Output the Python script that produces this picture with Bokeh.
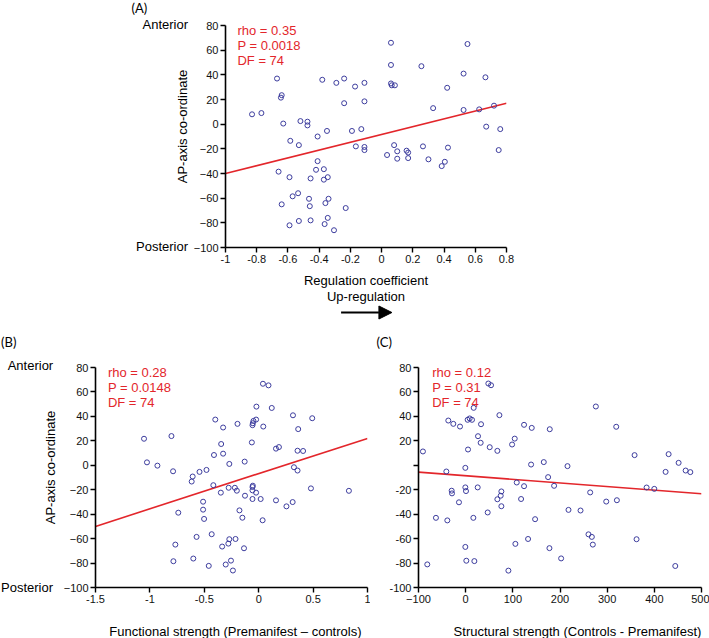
import math
from bokeh.plotting import figure
from bokeh.models import (Range1d, FixedTicker, CustomJSTickFormatter, Label,
                          Arrow, NormalHead)
from bokeh.layouts import column, row
from bokeh.embed import file_html
from bokeh.resources import INLINE

# ---------------- data ----------------
# Panel A: regulation coefficient vs AP-axis coordinate
a_x = [-0.83, -0.77, -0.67, -0.64, -0.645, -0.63, -0.66, -0.585, -0.59, -0.53,
       -0.52, -0.475, -0.475, -0.41, -0.35, -0.38, -0.29, -0.24, -0.17, -0.24,
       -0.11, -0.11, -0.19, -0.13, -0.165, -0.11, -0.11, -0.41, -0.42, -0.37,
       -0.345, -0.37, -0.455, -0.64, -0.57, -0.535, -0.465, -0.46, -0.34, -0.36,
       -0.23, -0.59, -0.53, -0.455, -0.345, -0.365, -0.305, 0.06, 0.06, 0.06,
       0.065, 0.085, 0.255, 0.035, 0.08, 0.10, 0.10, 0.16, 0.17, 0.17,
       0.265, 0.30, 0.33, 0.55, 0.525, 0.665, 0.42, 0.525, 0.625, 0.67,
       0.425, 0.405, 0.385, 0.72, 0.76, 0.75]
a_y = [8, 9, 37, 23.5, 21.5, 0.5, -38.5, -13.5, -43, -17,
       2.5, 2, -1, -10, -5.5, 36, 33.5, 37, 30.5, 17,
       33.5, 18.5, -5.5, -4, -18, -18.5, -21, -30, -37, -36.5,
       -43, -45, -44, -65, -58.5, -56, -60.5, -66.5, -60.5, -64,
       -68, -82, -78.5, -78, -76, -81, -86, 66, 48, 33,
       31.5, 31.5, 47, -25, -17, -22, -28, -21.5, -23, -27.5,
       -18, -28.5, 13, 65, 41, 38, 29.5, 11.5, 12, -2,
       -19, -30.5, -34, 15, -4, -21]
a_fit_x = [-1, 0.8]
a_fit_y = [-40, 17]
a_stats = ["rho = 0.35", "P = 0.0018", "DF = 74"]
a_xticks = [-1, -0.8, -0.6, -0.4, -0.2, 0, 0.2, 0.4, 0.6, 0.8]

# Panel B: functional strength vs AP-axis coordinate
b_x = [-1.054, -1.027, -0.931, -0.802, -0.787, -0.607, -0.616, -0.544, -0.48, -0.399,
       -0.327, -0.345, -0.327, -0.411, -0.27, -0.417, -0.195, -0.129, -0.063, -0.057,
       -0.048, -0.024, -0.021, -0.054, 0.042, 0.039, 0.09, 0.12, 0.159, 0.186,
       0.315, 0.363, 0.357, 0.408, 0.324, 0.357, 0.492, 0.829,
       -0.348, -0.276, -0.219, -0.201, -0.126, -0.057, -0.054, -0.057, -0.024, -0.057,
       0.018, 0.159, 0.255, 0.312, 0.48, -0.739, -0.511, -0.511, -0.502, -0.177,
       -0.15, 0.036, -0.766, -0.571, -0.432, -0.336, -0.279, -0.27, -0.213, -0.135,
       -0.784, -0.601, -0.459, -0.303, -0.255, -0.237]
b_y = [21.7, 2.4, -0.3, 23.9, -4.9, -9.2, -13.3, -5.4, -3.8, 37.4,
       30.9, 17.4, 9.5, 8.4, 1.1, -16.3, 33.9, 3.0, 18.7, 32.8,
       36.3, 37.4, 48, 34.4, 31.7, 66.7, 65.4, 46.9, 13.6, 14.9,
       40.9, 29.6, 11.9, 11.7, -1.6, -4.3, 38.5, -20.9,
       -22.4, -18.4, -18.4, -20.8, -24.9, -17.8, -16.7, -20.5, -22.4, -27.6,
       -27.6, -28.7, -33.6, -30.1, -18.9, -38.8, -29.8, -36.3, -43.9, -36.9,
       -42.9, -45, -64.9, -58.6, -56.4, -66.5, -64.1, -60.5, -60.3, -67.9,
       -78.5, -76.3, -82.3, -81.2, -78, -86.1]
b_fit_x = [-1.5, 1]
b_fit_y = [-50, 22]
b_stats = ["rho = 0.28", "P = 0.0148", "DF = 74"]
b_xticks = [-1.5, -1, -0.5, 0, 0.5, 1]

# Panel C: structural strength vs AP-axis coordinate
c_x = [-90.6, -41, -36.8, -26.2, -12, -0.7, 5, 4.2, 8.5, 13.4,
       17, 26.2, 31.8, 32.6, 48.1, 53.8, 51, 67.2, 71.5, 98.4,
       104, 123.8, 140.1, 138.7, 165.6, 178.3, 174.8, 215.9, 108.3, 123.8,
       187.5, 276, 319.2, 358.1, 430.3, 451.5, 423.9, 466.4, 476.3, 383.6,
       399.9, 264, 320.6,
       -29.7, -29, -0.7, 0.7, 25.5, 75.7, 74.3, 67.2, 75.7, -14.2,
       117.5, -63, -38.9, 16.3, 46.7, 147.2, 218, 243.5, 298, -0.7,
       105.4, 132.3, 177.6, 202.4, 260.4, 267.5, 269.6, 362.3, -81.4, 1.4,
       18.4, 90.6, 444.4]
c_y = [11.3, -5.1, 36.6, 33.9, 31.7, -2.1, 12.9, 37.2, 38.3, 37.2,
       47, 23.8, 18.4, 33.6, 66.9, 65.5, 14.8, 11.8, 41, 17,
       21.8, 33.1, 30.6, 0.6, 2.6, 29.5, -9.7, -0.7, -14.1, -17.1,
       -16.8, 48.1, 31.5, 8.3, 9.1, 2, -5.4, -4.3, -5.6, -18.2,
       -19.3, -22.2, -28.6,
       -20.8, -23, -18.1, -21.1, -18.1, -21.4, -24.9, -27.8, -33.5, -30.3,
       -27.6, -43, -45.1, -43, -38.6, -44.1, -36.5, -37, -29.7, -66.8,
       -64.3, -60.3, -67.8, -76.2, -56.5, -58.6, -64.9, -60.5, -81.1, -78.1,
       -78.4, -86.2, -82.4]
c_fit_x = [-100, 500]
c_fit_y = [-5.6, -23.3]
c_stats = ["rho = 0.12", "P = 0.31", "DF = 74"]
c_xticks = [-100, 0, 100, 200, 300, 400, 500]

y_ticks = [-100, -80, -60, -40, -20, 0, 20, 40, 60, 80]

# ---------------- style ----------------
FONT = "Liberation Sans"
PANEL_FONT = "Lato"
RED = "#e3262b"
BLUE = "#3d3d9e"

DEC_FMT = """
var s = tick.toFixed(1);
if (s.endsWith('.0')) { s = s.slice(0, -2); }
if (s == '-0') { s = '0'; }
return s;
"""
C_Y_FMT = "return (Math.abs(tick) < 1e-9) ? '' : String(tick);"


def make_panel(x0, y0, width, height, borders, xr, yr, xticks, xfmt, yfmt):
    """borders = (left, top, right, bottom) in px; x0, y0 = figure top-left on the page."""
    bl, bt, br, bb = borders
    p = figure(width=width, height=height, output_backend="svg", toolbar_location=None,
               x_range=Range1d(*xr), y_range=Range1d(*yr),
               min_border_left=bl, min_border_top=bt,
               min_border_right=br, min_border_bottom=bb)
    p.outline_line_color = None
    p.xgrid.visible = False
    p.ygrid.visible = False
    p.background_fill_color = "white"
    p.border_fill_color = "white"
    p.xaxis.ticker = FixedTicker(ticks=xticks)
    p.yaxis.ticker = FixedTicker(ticks=y_ticks)
    if xfmt:
        p.xaxis.formatter = CustomJSTickFormatter(code=xfmt)
    if yfmt:
        p.yaxis.formatter = CustomJSTickFormatter(code=yfmt)
    for ax in (p.xaxis[0], p.yaxis[0]):
        ax.axis_line_width = 1.6
        ax.axis_line_color = "black"
        ax.major_tick_line_width = 1.4
        ax.major_tick_line_color = "black"
        ax.major_tick_out = 5
        ax.major_tick_in = 0
        ax.minor_tick_out = 0
        ax.minor_tick_in = 0
        ax.major_label_text_font = FONT
        ax.major_label_text_font_size = "11px"
        ax.major_label_text_color = "#111111"
    p.xaxis.major_label_standoff = 2
    p.yaxis.major_label_standoff = 2
    L, T = x0 + bl, y0 + bt
    R, B = x0 + width - br, y0 + height - bb

    def to_data(ix, iy):
        x = xr[0] + (ix - L) / (R - L) * (xr[1] - xr[0])
        y = yr[1] - (iy - T) / (B - T) * (yr[1] - yr[0])
        return x, y
    return p, to_data


def text_panel(x0, y0, w, h, bl=0, br=0):
    """Figure used only for text; its frame maps page pixels 1:1 (y downward)."""
    p = figure(width=w, height=h, output_backend="svg", toolbar_location=None,
               x_range=Range1d(x0 + bl, x0 + w - br), y_range=Range1d(y0 + h, y0),
               x_axis_location=None, y_axis_location=None,
               min_border_left=bl, min_border_right=br, min_border_top=0, min_border_bottom=0)
    p.outline_line_color = None
    p.xgrid.visible = False
    p.ygrid.visible = False
    p.background_fill_color = "white"
    p.border_fill_color = "white"
    return p, (lambda ix, iy: (ix, iy))


def add_text(p, m, ix, iy, text, size, color="black", align="left", angle=0.0, font=FONT):
    x, y = m(ix, iy)
    p.add_layout(Label(x=x, y=y, text=text, text_font=font, text_font_size=f"{size}px",
                       text_color=color, text_align=align, text_baseline="middle",
                       angle=angle))


def draw(p, xs, ys, fx, fy):
    p.line(fx, fy, line_color=RED, line_width=1.6)
    p.scatter(xs, ys, marker="circle", size=5, fill_color=None,
              line_color=BLUE, line_width=1)


# ---------------- panel A (top) ----------------
A_B = (34, 25, 14, 25)
pa, ma = make_panel(190, 0, 330, 272, A_B, (-1, 0.8), (-100, 80), a_xticks, DEC_FMT, None)
draw(pa, a_x, a_y, a_fit_x, a_fit_y)
for i, s in enumerate(a_stats):
    add_text(pa, ma, 236, 29.5 + 15.3 * i, s, 13, color=RED)

ta_left, tl = text_panel(0, 0, 190, 325)
add_text(ta_left, tl, 131, 7, "(A)", 13, font=PANEL_FONT)
add_text(ta_left, tl, 187.5, 24, "Anterior", 13, align="right")
add_text(ta_left, tl, 187.5, 246, "Posterior", 13, align="right")
add_text(ta_left, tl, 182, 126, "AP-axis co-ordinate", 13, align="center", angle=math.pi / 2)

ta_bot, tbm = text_panel(190, 272, 330, 53, bl=A_B[0], br=A_B[2])
add_text(ta_bot, tbm, 365, 280, "Regulation coefficient", 13, align="center")
add_text(ta_bot, tbm, 365, 296, "Up-regulation", 13, align="center")
ax0, ay0 = tbm(340, 312)
ax1, ay1 = tbm(391, 312)
ta_bot.add_layout(Arrow(end=NormalHead(size=13, fill_color="black", line_color="black"),
                        x_start=ax0, y_start=ay0, x_end=ax1, y_end=ay1,
                        line_width=2, line_color="black"))

# ---------------- strip with panel letters B and C ----------------
strip, sm = text_panel(0, 325, 709, 30)
add_text(strip, sm, 0.5, 341, "(B)", 13, font=PANEL_FONT)
add_text(strip, sm, 376, 341, "(C)", 13, font=PANEL_FONT)

# ---------------- panel B ----------------
B_B = (29, 12, 3, 26)
pb, mb = make_panel(60, 355, 310, 258, B_B, (-1.5, 1), (-100, 80), b_xticks, DEC_FMT, None)
draw(pb, b_x, b_y, b_fit_x, b_fit_y)
for i, s in enumerate(b_stats):
    add_text(pb, mb, 101.7, 371.5 + 15.3 * i, s, 13, color=RED)

tb_left, tbl = text_panel(0, 355, 60, 283)
add_text(tb_left, tbl, 52.7, 365, "Anterior", 13, align="right")
add_text(tb_left, tbl, 52.5, 587, "Posterior", 13, align="right")
add_text(tb_left, tbl, 50, 467, "AP-axis co-ordinate", 13, align="center", angle=math.pi / 2)

tb_bot, tbb = text_panel(60, 613, 310, 25, bl=B_B[0], br=B_B[2])
add_text(tb_bot, tbb, 232, 631, "Functional strength (Premanifest \u2013 controls)", 13, align="center")

# ---------------- panel C ----------------
C_B = (48, 12, 8, 26)
pc, mc = make_panel(370, 355, 339, 258, C_B, (-100, 500), (-100, 80), c_xticks, None, C_Y_FMT)
draw(pc, c_x, c_y, c_fit_x, c_fit_y)
for i, s in enumerate(c_stats):
    add_text(pc, mc, 431.7, 371.5 + 15.3 * i, s, 13, color=RED)

tc_bot, tcb = text_panel(370, 613, 339, 25, bl=C_B[0], br=C_B[2])
add_text(tc_bot, tcb, 577, 631, "Structural strength (Controls - Premanifest)", 13, align="center")

layout = column(
    row(ta_left, column(pa, ta_bot)),
    strip,
    row(tb_left, column(pb, tb_bot), column(pc, tc_bot)),
)
open("out.html", "w").write(file_html(layout, INLINE))
